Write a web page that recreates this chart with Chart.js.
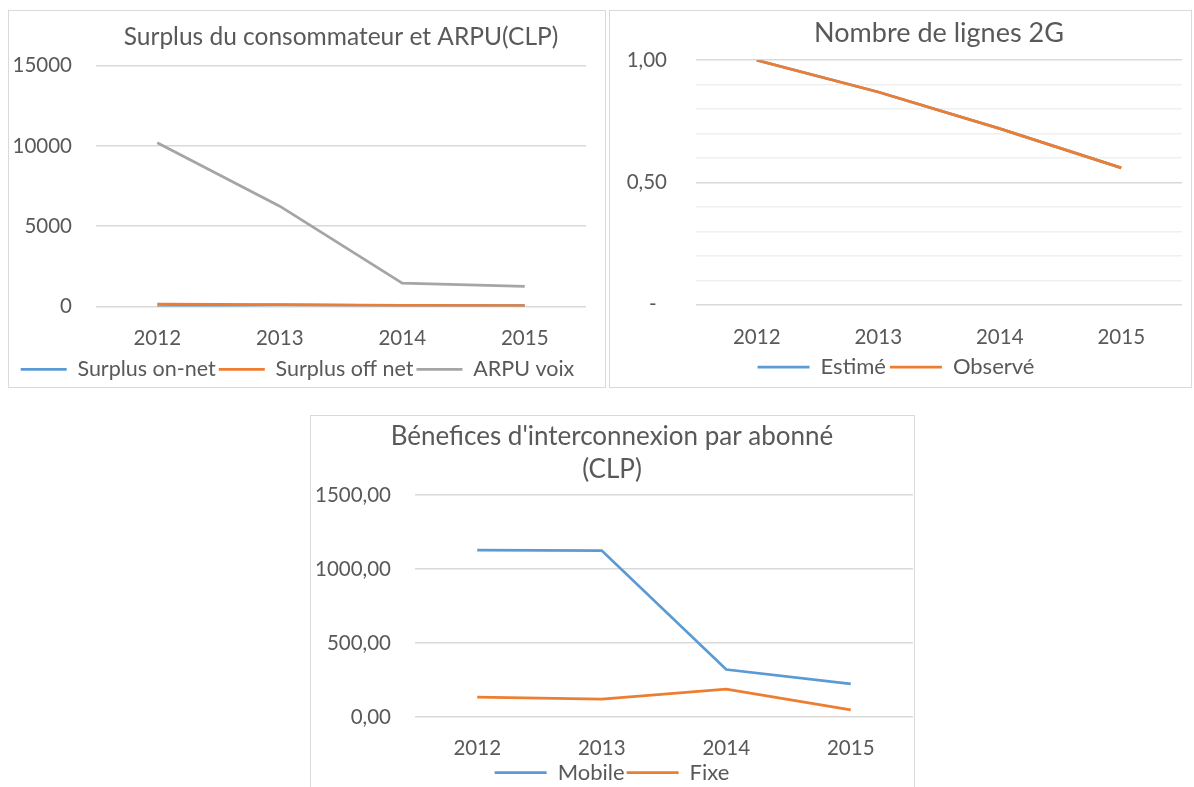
<!DOCTYPE html>
<html>
<head>
<meta charset="utf-8">
<script src="https://cdn.jsdelivr.net/npm/chart.js@4.4.1/dist/chart.umd.min.js"></script>
<style>
  body { margin: 0; background: #fff; width: 1194px; height: 787px; overflow: hidden; position: relative; }
  .box { position: absolute; border: 1px solid #d9d9d9; box-sizing: border-box; background: #fff; }
  #b1 { left: 8px; top: 10px; width: 598px; height: 378px; }
  #b2 { left: 609px; top: 10px; width: 583px; height: 378px; }
  #b3 { left: 310px; top: 415px; width: 605px; height: 384px; }
</style>
</head>
<body>
<div class="box" id="b1"><canvas id="c1"></canvas></div>
<div class="box" id="b2"><canvas id="c2"></canvas></div>
<div class="box" id="b3"><canvas id="c3"></canvas></div>
<script>
// data
const years = ['2012', '2013', '2014', '2015'];

const surplusOnNet = [0, 100, 60, 50];
const surplusOffNet = [150, 110, 70, 50];
const arpuVoix = [10200, 6250, 1460, 1250];
const y1TickValues = [0, 5000, 10000, 15000];
const y1TickLabels = ['0', '5000', '10000', '15000'];

const lignesEstime = [1.00, 0.87, 0.72, 0.56];
const lignesObserve = [1.00, 0.87, 0.72, 0.56];
const y2TickValues = [0, 0.5, 1];
const y2TickLabels = ['-  ', '0,50', '1,00'];

const benefMobile = [1127, 1125, 321, 224];
const benefFixe = [134, 120, 188, 48];
const y3TickValues = [0, 500, 1000, 1500];
const y3TickLabels = ['0,00', '500,00', '1000,00', '1500,00'];

const BLUE = '#5b9bd5', ORANGE = '#ed7d31', GREY = '#a5a5a5';
const TEXT = '#595959', GRID = '#d9d9d9', GRID_MINOR = '#efefef';
const FONT = 'Lato';
const TICK_SIZE = 20.5;

Chart.defaults.font.family = FONT;
Chart.defaults.color = TEXT;

function pickLabel(values, labels) {
  return v => {
    const i = values.findIndex(t => Math.abs(t - v) < 1e-6);
    return i >= 0 ? labels[i] : '';
  };
}

function line(label, data, color, order) {
  return {
    label: label, data: data, order: order,
    borderColor: color, backgroundColor: color,
    borderWidth: 2.75, pointRadius: 0, tension: 0
  };
}

function makeChart(id, opts) {
  return new Chart(document.getElementById(id), {
    type: 'line',
    data: { labels: years, datasets: opts.datasets },
    options: {
      responsive: true,
      maintainAspectRatio: false,
      animation: false,
      layout: { padding: opts.padding },
      plugins: {
        tooltip: { enabled: false },
        title: {
          display: true, text: opts.title, color: TEXT, fullSize: opts.titleFull,
          font: { family: FONT, size: opts.titleSize, weight: 'normal', lineHeight: opts.titleLH || 1.2 },
          padding: opts.titlePad
        },
        legend: {
          position: 'bottom',
          labels: {
            usePointStyle: true, pointStyle: 'line', pointStyleWidth: opts.legendLine,
            padding: opts.legendPad, color: TEXT,
            font: { family: FONT, size: opts.legendSize, lineHeight: opts.legendLH || 1.2 },
            sort: (a, b) => a.datasetIndex - b.datasetIndex
          }
        }
      },
      scales: {
        x: {
          offset: true,
          grid: { display: false, drawTicks: false },
          border: { display: false },
          ticks: {
            padding: opts.xPad, color: TEXT,
            font: { family: FONT, size: TICK_SIZE, lineHeight: opts.xLH || 1.2 }
          },
          afterFit: s => { s.height = opts.xHeight; }
        },
        y: {
          min: opts.yMin, max: opts.yMax,
          grid: { color: opts.gridColor || GRID, lineWidth: 1.5, drawTicks: false },
          border: { display: false },
          ticks: {
            stepSize: opts.step, padding: opts.yPad, color: TEXT,
            autoSkip: false, maxTicksLimit: 20,
            font: { family: FONT, size: TICK_SIZE },
            callback: opts.tickFn
          },
          afterFit: s => { s.width = opts.yWidth; }
        }
      }
    }
  });
}

makeChart('c1', {
  title: 'Surplus du consommateur et ARPU(CLP)', titleSize: 24.5, titleFull: false,
  titlePad: { top: 11.3, bottom: 14 },
  padding: { left: 0, right: 19, top: 0, bottom: -3 },
  datasets: [
    line('Surplus on-net', surplusOnNet, BLUE, 3),
    line('Surplus off net', surplusOffNet, ORANGE, 2),
    line('ARPU voix', arpuVoix, GREY, 1)
  ],
  yMin: 0, yMax: 15000, step: 5000, yPad: 24, yWidth: 87,
  tickFn: pickLabel(y1TickValues, y1TickLabels),
  xPad: 20, xHeight: 49, legendSize: 21.5, legendLine: 46, legendPad: 3
});

makeChart('c2', {
  title: 'Nombre de lignes 2G', titleSize: 27, titleFull: false,
  titlePad: { top: 5.8, bottom: 11 },
  padding: { left: 0, right: 9, top: 0, bottom: -1 },
  datasets: [
    line('Estimé', lignesEstime, BLUE, 2),
    line('Observé', lignesObserve, ORANGE, 1)
  ],
  yMin: 0, yMax: 1, step: 0.1, yPad: 29, yWidth: 86,
  gridColor: ctx => {
    const v = ctx.tick ? ctx.tick.value : 0;
    return Math.abs(v * 2 - Math.round(v * 2)) < 1e-6 ? GRID : GRID_MINOR;
  },
  tickFn: pickLabel(y2TickValues, y2TickLabels),
  xPad: 20, xHeight: 47.2, legendSize: 22, legendLine: 52, legendPad: 4
});

makeChart('c3', {
  title: ["Bénefices d'interconnexion par abonné", '(CLP)'], titleSize: 26, titleFull: true, titleLH: 1.28,
  titlePad: { top: 4, bottom: 8.5 },
  padding: { left: 0, right: 1, top: 0, bottom: 4.5 },
  datasets: [
    line('Mobile', benefMobile, BLUE, 2),
    line('Fixe', benefFixe, ORANGE, 1)
  ],
  yMin: 0, yMax: 1500, step: 500, yPad: 24, yWidth: 104,
  tickFn: pickLabel(y3TickValues, y3TickLabels),
  xPad: 21.5, xLH: 1, xHeight: 42.5,
  legendSize: 22, legendLH: 1, legendLine: 52, legendPad: 2
});
</script>
</body>
</html>
